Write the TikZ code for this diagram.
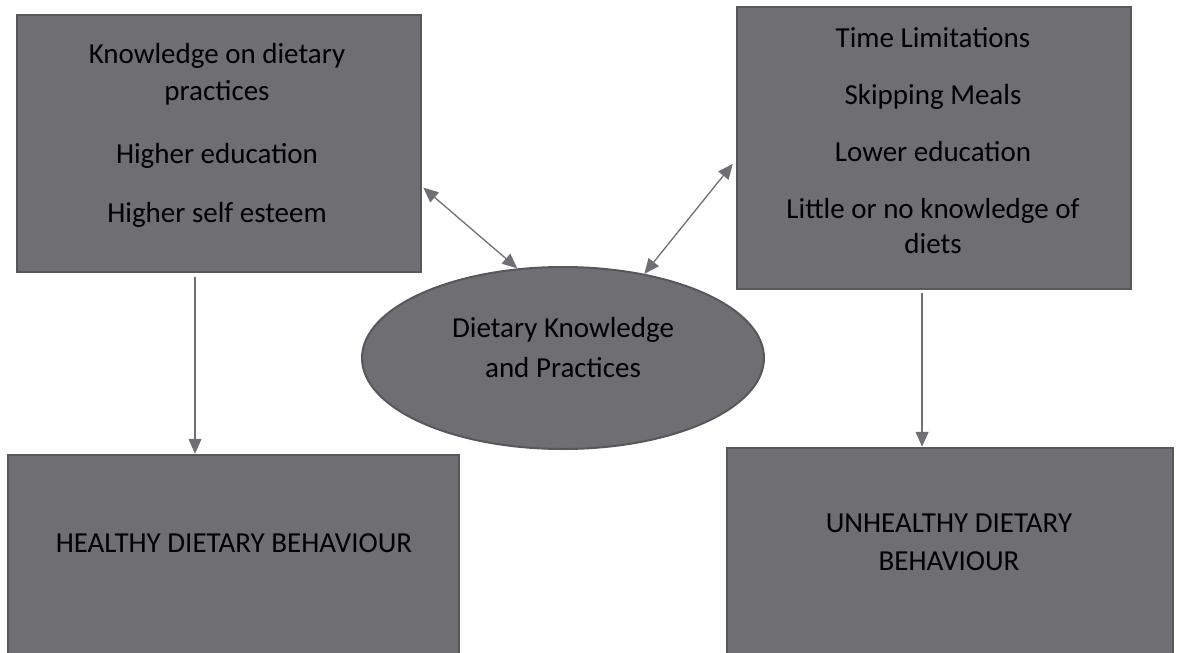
\documentclass[tikz,border=0pt]{standalone}
\usepackage{fontspec}
\setmainfont{Carlito}
\usetikzlibrary{shapes.geometric,arrows.meta,calc}
\definecolor{boxfill}{RGB}{111,110,115}
\definecolor{boxline}{RGB}{88,87,92}
\definecolor{arrcol}{RGB}{112,111,116}
\tikzset{
  boxnode/.style={draw=boxline, fill=boxfill, line width=2.5pt, rectangle, inner sep=0pt},
  ovalnode/.style={draw=boxline, fill=boxfill, line width=2pt, ellipse, inner sep=0pt, minimum width=402pt, minimum height=182pt},
  txt/.style={anchor=base, inner sep=0pt, font=\fontsize{29}{38}\selectfont, text=black},
  arr/.style={draw=arrcol, line width=1.3pt, -{Triangle[length=15pt,width=13pt]}},
  dblarr/.style={draw=arrcol, line width=1.3pt, {Triangle[length=15pt,width=13pt]}-{Triangle[length=15pt,width=13pt]}}
}
\begin{document}
\begin{tikzpicture}[x=1pt,y=-1pt]
\useasboundingbox (0,0) rectangle (1179,653);
\clip (0,0) rectangle (1179,653);
% boxes
\node[boxnode, minimum width=404pt, minimum height=257pt] (tl) at (219,143.5) {};
\node[boxnode, minimum width=394pt, minimum height=282pt] (tr) at (934,148) {};
\node[boxnode, minimum width=451pt, minimum height=210pt] (bl) at (233.5,560) {};
\node[boxnode, minimum width=446pt, minimum height=217pt] (br) at (950,556.5) {};
\node[ovalnode] (el) at (563,358) {};
% texts
\node[txt] (tl1) at (217,63) {Knowledge on dietary};
\node[txt] (tl2) at (217,100) {practices};
\node[txt] (tl3) at (217,163) {Higher education};
\node[txt] (tl4) at (217,222) {Higher self esteem};
\node[txt] (tr1) at (933,47) {Time Limitations};
\node[txt] (tr2) at (933,104) {Skipping Meals};
\node[txt] (tr3) at (933,161) {Lower education};
\node[txt] (tr4) at (933,218) {Little or no knowledge of};
\node[txt] (tr5) at (933,253) {diets};
\node[txt] (el1) at (563,337) {Dietary Knowledge};
\node[txt] (el2) at (563,377) {and Practices};
\node[txt] (bl1) at (234,552) {HEALTHY DIETARY BEHAVIOUR};
\node[txt] (br1) at (949,532) {UNHEALTHY DIETARY};
\node[txt] (br2) at (949,570) {BEHAVIOUR};
% connectors
\coordinate (tlarr) at ($(tl.north east)!0.67!(tl.south east)+(1,0)$);
\coordinate (trarr) at ($(tr.north west)!0.556!(tr.south west)+(-3,0)$);
\draw[dblarr] (tlarr) -- (el.117);
\draw[dblarr] (trarr) -- (el.46);
\coordinate (tlbot) at ($(tl.south west)!0.441!(tl.south east)+(0,4)$);
\coordinate (blin) at (tlbot |- bl.north);
\draw[arr] (tlbot) -- (blin);
\coordinate (trbot) at ($(tr.south west)!0.47!(tr.south east)+(0,3)$);
\coordinate (brin) at (trbot |- br.north);
\draw[arr] (trbot) -- (brin);
\end{tikzpicture}
\end{document}
